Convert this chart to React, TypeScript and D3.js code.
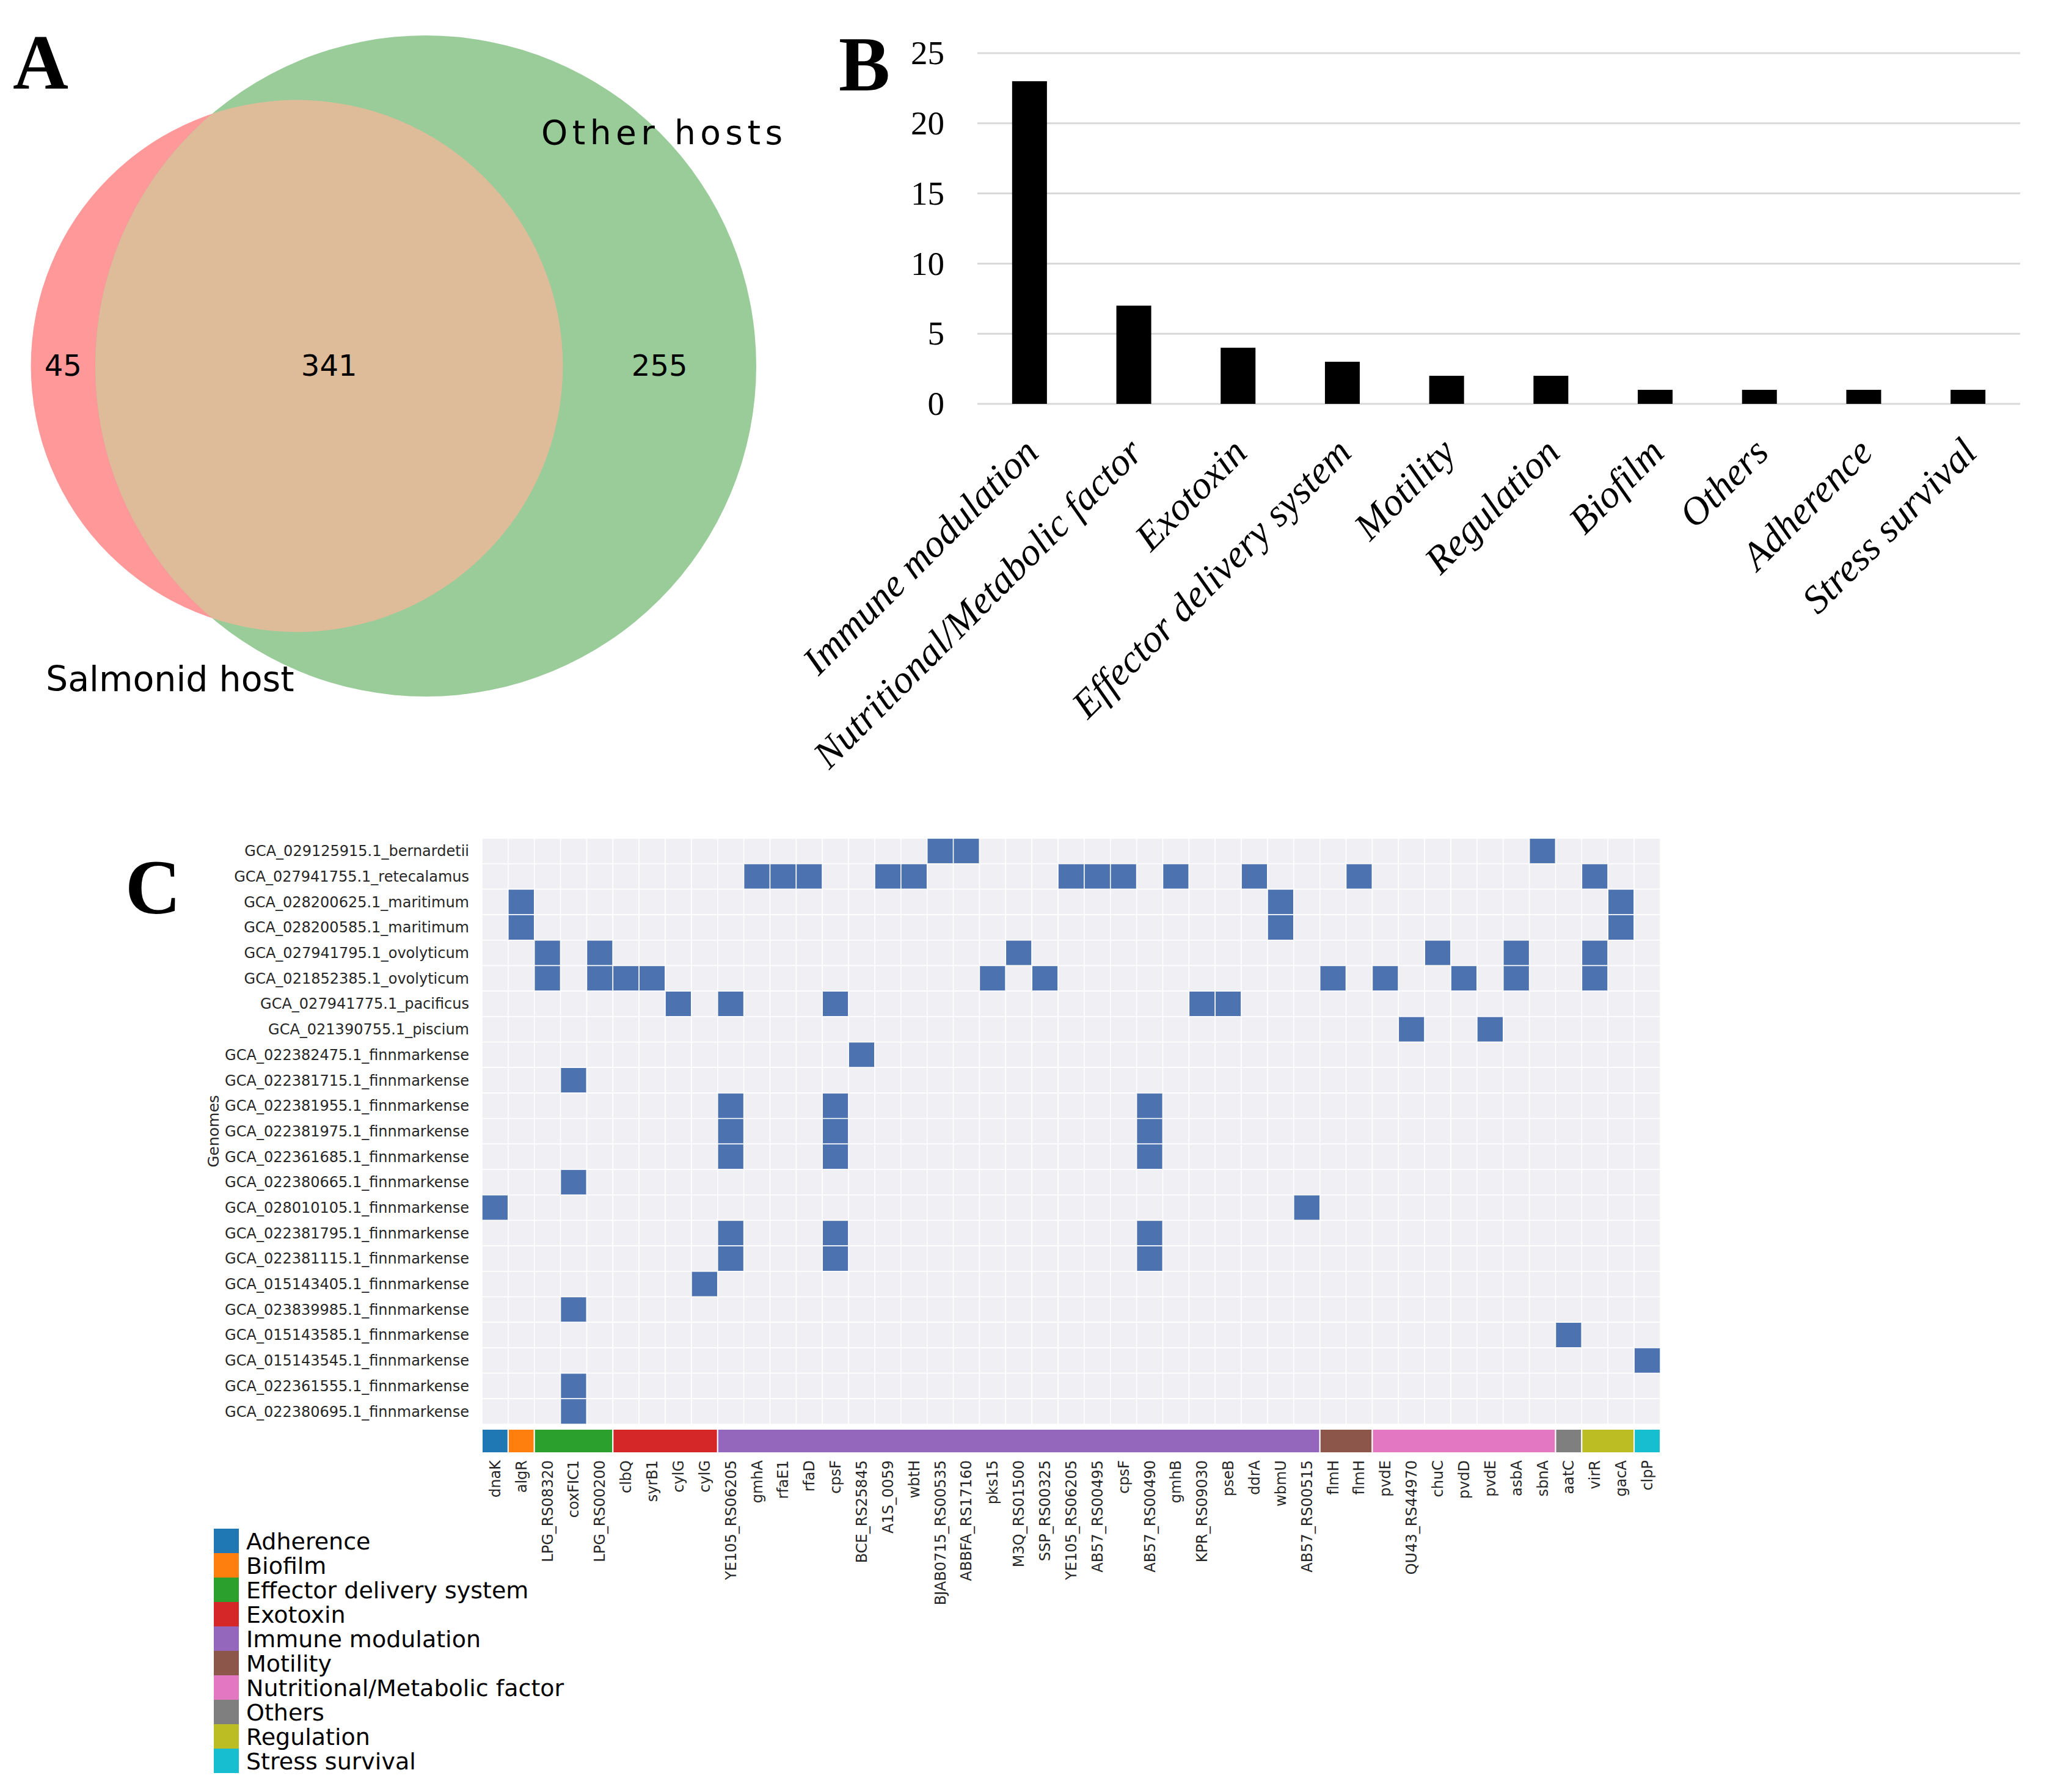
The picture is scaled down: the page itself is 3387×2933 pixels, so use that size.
import React from 'react';
import * as d3 from 'd3';

// ---------- Panel A data ----------
const vennSetNames = ['Salmonid host', 'Other hosts'];
const vennRegionCounts = [45, 341, 255]; // only salmonid, shared, only other

// ---------- Panel B data ----------
const barCategories = ['Immune modulation', 'Nutritional/Metabolic factor', 'Exotoxin', 'Effector delivery system', 'Motility', 'Regulation', 'Biofilm', 'Others', 'Adherence', 'Stress survival'];
const barValues = [23, 7, 4, 3, 2, 2, 1, 1, 1, 1];
const barYTicks = [0, 5, 10, 15, 20, 25];

// ---------- Panel C data ----------
const categoryNames = ['Adherence', 'Biofilm', 'Effector delivery system', 'Exotoxin', 'Immune modulation', 'Motility', 'Nutritional/Metabolic factor', 'Others', 'Regulation', 'Stress survival'];
const categoryColors = ['#1f77b4', '#ff7f0e', '#2ca02c', '#d62728', '#9467bd', '#8c564b', '#e377c2', '#7f7f7f', '#bcbd22', '#17becf'];

const geneNames = ['dnaK', 'algR', 'LPG_RS08320', 'coxFIC1', 'LPG_RS00200', 'clbQ', 'syrB1', 'cylG', 'cylG', 'YE105_RS06205', 'gmhA', 'rfaE1', 'rfaD', 'cpsF', 'BCE_RS25845', 'A1S_0059', 'wbtH', 'BJAB0715_RS00535', 'ABBFA_RS17160', 'pks15', 'M3Q_RS01500', 'SSP_RS00325', 'YE105_RS06205', 'AB57_RS00495', 'cpsF', 'AB57_RS00490', 'gmhB', 'KPR_RS09030', 'pseB', 'ddrA', 'wbmU', 'AB57_RS00515', 'flmH', 'flmH', 'pvdE', 'QU43_RS44970', 'chuC', 'pvdD', 'pvdE', 'asbA', 'sbnA', 'aatC', 'virR', 'gacA', 'clpP'];
const geneCategory = [0, 1, 2, 2, 2, 3, 3, 3, 3, 4, 4, 4, 4, 4, 4, 4, 4, 4, 4, 4, 4, 4, 4, 4, 4, 4, 4, 4, 4, 4, 4, 4, 5, 5, 6, 6, 6, 6, 6, 6, 6, 7, 8, 8, 9];

const genomeNames = ['GCA_029125915.1_bernardetii', 'GCA_027941755.1_retecalamus', 'GCA_028200625.1_maritimum', 'GCA_028200585.1_maritimum', 'GCA_027941795.1_ovolyticum', 'GCA_021852385.1_ovolyticum', 'GCA_027941775.1_pacificus', 'GCA_021390755.1_piscium', 'GCA_022382475.1_finnmarkense', 'GCA_022381715.1_finnmarkense', 'GCA_022381955.1_finnmarkense', 'GCA_022381975.1_finnmarkense', 'GCA_022361685.1_finnmarkense', 'GCA_022380665.1_finnmarkense', 'GCA_028010105.1_finnmarkense', 'GCA_022381795.1_finnmarkense', 'GCA_022381115.1_finnmarkense', 'GCA_015143405.1_finnmarkense', 'GCA_023839985.1_finnmarkense', 'GCA_015143585.1_finnmarkense', 'GCA_015143545.1_finnmarkense', 'GCA_022361555.1_finnmarkense', 'GCA_022380695.1_finnmarkense'];
// 1-based gene column indices present in each genome
const presentGenes = [
  [18, 19, 41],
  [11, 12, 13, 16, 17, 23, 24, 25, 27, 30, 34, 43],
  [2, 31, 44],
  [2, 31, 44],
  [3, 5, 21, 37, 40, 43],
  [3, 5, 6, 7, 20, 22, 33, 35, 38, 40, 43],
  [8, 10, 14, 28, 29],
  [36, 39],
  [15],
  [4],
  [10, 14, 26],
  [10, 14, 26],
  [10, 14, 26],
  [4],
  [1, 32],
  [10, 14, 26],
  [10, 14, 26],
  [9],
  [4],
  [42],
  [45],
  [4],
  [4],
];

const W = 3387;
const H = 2933;

function lensArea(d: number, r1: number, r2: number) {
  if (d >= r1 + r2) return 0;
  if (d <= Math.abs(r1 - r2)) return Math.PI * Math.min(r1, r2) ** 2;
  const a = r1 * r1 * Math.acos((d * d + r1 * r1 - r2 * r2) / (2 * d * r1));
  const b = r2 * r2 * Math.acos((d * d + r2 * r2 - r1 * r1) / (2 * d * r2));
  const c = 0.5 * Math.sqrt((-d + r1 + r2) * (d + r1 - r2) * (d - r1 + r2) * (d + r1 + r2));
  return a + b - c;
}

function Venn() {
  const [onlyA, both, onlyB] = vennRegionCounts;
  const totA = onlyA + both;
  const totB = both + onlyB;
  const rScale = d3.scaleSqrt().domain([0, totB]).range([0, 541]);
  const r1 = rScale(totA);
  const r2 = rScale(totB);
  const target = (both / totB) * Math.PI * r2 * r2;
  let lo = Math.abs(r1 - r2), hi = r1 + r2;
  for (let i = 0; i < 80; i++) {
    const mid = (lo + hi) / 2;
    if (lensArea(mid, r1, r2) > target) lo = mid; else hi = mid;
  }
  const d = (lo + hi) / 2;
  const cy = 599;
  const cxB = 697;
  const cxA = cxB - d;
  const fontStyle = { fontFamily: 'DejaVu Sans', fill: '#000' };
  const labelY = 615;
  return (
    <g>
      <defs>
        <clipPath id="clipA">
          <circle cx={cxA} cy={cy} r={r1} />
        </clipPath>
      </defs>
      <circle cx={cxA} cy={cy} r={r1} fill="#ff9999" />
      <circle cx={cxB} cy={cy} r={r2} fill="#99cc99" />
      <circle cx={cxB} cy={cy} r={r2} fill="#dfbc99" clipPath="url(#clipA)" />
      <text x={((cxA - r1) + (cxB - r2)) / 2} y={labelY} textAnchor="middle" fontSize={48} style={fontStyle}>{onlyA}</text>
      <text x={((cxB - r2) + (cxA + r1)) / 2} y={labelY} textAnchor="middle" fontSize={48} style={fontStyle}>{both}</text>
      <text x={((cxA + r1) + (cxB + r2)) / 2} y={labelY} textAnchor="middle" fontSize={48} style={fontStyle}>{onlyB}</text>
      <text x={75} y={1131} fontSize={57} style={fontStyle}>{vennSetNames[0]}</text>
      <text x={886} y={236} fontSize={55} letterSpacing={7.4} style={fontStyle}>{vennSetNames[1]}</text>
      <text x={21} y={145} fontSize={126} fontWeight="bold" fontFamily="Liberation Serif">A</text>
    </g>
  );
}

function BarChart() {
  const x = d3.scaleBand<string>().domain(barCategories).range([1600, 3307]).padding(0);
  const y = d3.scaleLinear().domain([0, 25]).range([661, 87]);
  const bw = x.bandwidth() * 0.334;
  return (
    <g>
      <text x={1373} y={148} fontSize={126} fontWeight="bold" fontFamily="Liberation Serif">B</text>
      {barYTicks.map((t) => (
        <g key={t}>
          <line x1={1600} x2={3307} y1={y(t)} y2={y(t)} stroke="#d9d9d9" strokeWidth={3} />
          <text x={1546} y={y(t)} dy="0.33em" textAnchor="end" fontSize={55} fontFamily="Liberation Serif" fill="#000">{t}</text>
        </g>
      ))}
      {barCategories.map((c, i) => {
        const cx = (x(c) as number) + x.bandwidth() / 2;
        return (
          <g key={c}>
            <rect x={cx - bw / 2} y={y(barValues[i])} width={bw} height={y(0) - y(barValues[i])} fill="#000" />
            <text transform={`translate(${cx + 18},744) rotate(-45)`} textAnchor="end" fontSize={64} fontStyle="italic" fontFamily="Liberation Serif" fill="#000">{c}</text>
          </g>
        );
      })}
    </g>
  );
}

function Heatmap() {
  const cols = geneNames.map((_, i) => i);
  const x = d3.scaleBand<number>().domain(cols).range([789, 2718]);
  const y = d3.scaleBand<string>().domain(genomeNames).range([1372, 2331]);
  const bw = x.bandwidth();
  const bh = y.bandwidth();
  // category segments
  const segments: { cat: number; start: number; end: number }[] = [];
  geneCategory.forEach((c, i) => {
    const last = segments[segments.length - 1];
    if (last && last.cat === c) last.end = i;
    else segments.push({ cat: c, start: i, end: i });
  });
  const tickFont = { fontFamily: 'DejaVu Sans', fill: '#262626' };
  return (
    <g>
      <text x={205} y={1495} fontSize={126} fontWeight="bold" fontFamily="Liberation Serif">C</text>
      {genomeNames.map((g, r) => {
        const present = new Set(presentGenes[r]);
        return (
          <g key={g}>
            {cols.map((c) => (
              <rect key={c} x={x(c)} y={y(g)} width={bw} height={bh}
                fill={present.has(c + 1) ? '#4c72b0' : '#f0f0f4'} stroke="#ffffff" strokeWidth={1.5} />
            ))}
            <text x={768} y={(y(g) as number) + bh / 2} dy="0.35em" textAnchor="end" fontSize={24} style={tickFont}>{g}</text>
          </g>
        );
      })}
      {segments.map((s) => (
        <rect key={s.cat} x={x(s.start)} y={2339} width={(x(s.end) as number) + bw - (x(s.start) as number)} height={39}
          fill={categoryColors[s.cat]} stroke="#ffffff" strokeWidth={2} />
      ))}
      {geneNames.map((gname, i) => (
        <text key={i} transform={`translate(${(x(i) as number) + bw / 2},2390) rotate(-90)`} dy="0.35em" textAnchor="end" fontSize={24} style={tickFont}>{gname}</text>
      ))}
      <text transform={`translate(349,${(1372 + 2331) / 2}) rotate(-90)`} textAnchor="middle" dy="0.35em" fontSize={25} style={tickFont}>Genomes</text>
      {categoryNames.map((c, i) => (
        <g key={c}>
          <rect x={350} y={2502 + i * 40} width={41} height={40} fill={categoryColors[i]} />
          <text x={403} y={2502 + i * 40 + 20} dy="0.36em" fontSize={38} fontFamily="DejaVu Sans" fill="#000">{c}</text>
        </g>
      ))}
    </g>
  );
}

export default function App() {
  return (
    <svg width={W} height={H} viewBox={`0 0 ${W} ${H}`} style={{ position: 'absolute', left: 0, top: 0, background: '#fff' }}>
      <rect x={0} y={0} width={W} height={H} fill="#fff" />
      <Venn />
      <BarChart />
      <Heatmap />
    </svg>
  );
}
